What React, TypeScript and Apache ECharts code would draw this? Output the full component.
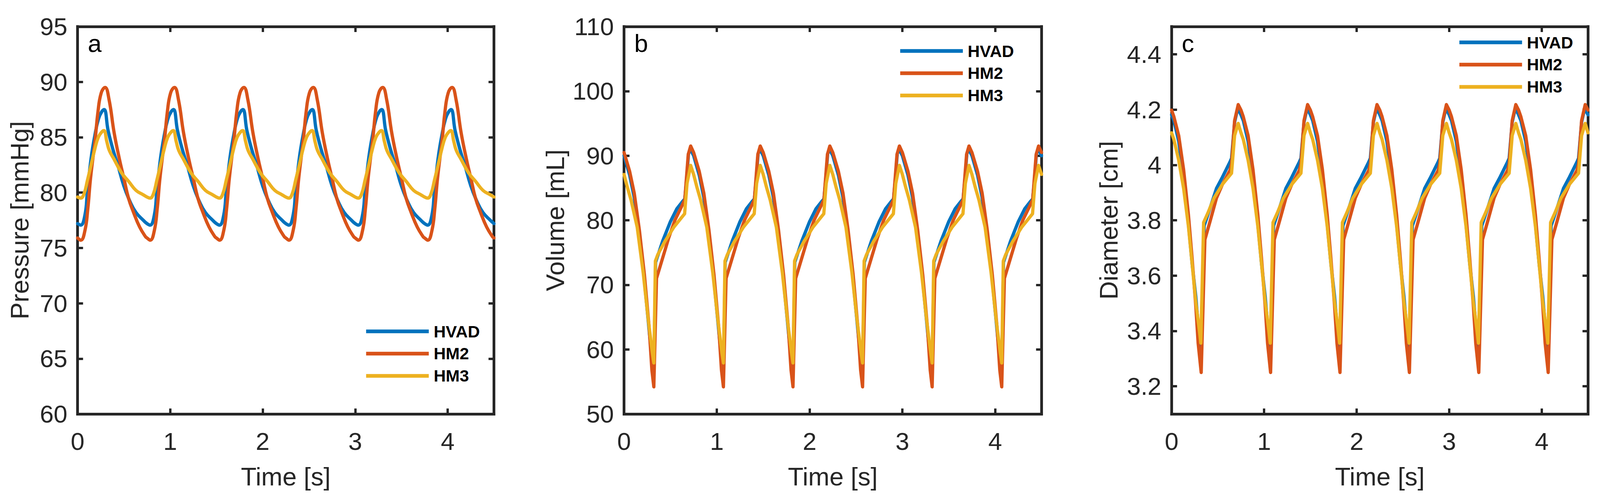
import React, { useEffect, useRef, useState } from "react";
import * as echarts from "echarts";

// ---------------- DATA (one cardiac cycle, period 0.75 s) ----------------
const PERIOD = 0.75;
const CYCLES = 6;
const DEVICES = ["HVAD", "HM2", "HM3"];
const X_TICKS = [0, 1, 2, 3, 4];

// Panel a: pressure [mmHg]
const pressureHVAD_t = [0, 0.034, 0.08, 0.106, 0.146, 0.185, 0.224, 0.264, 0.287, 0.33, 0.382, 0.434, 0.5, 0.566, 0.631, 0.71];
const pressureHVAD_v = [77.2, 77.06, 78.0, 80.1, 83.1, 85.1, 86.6, 87.35, 87.5, 85.6, 83.9, 82.5, 80.6, 79.2, 78.2, 77.5];
const pressureHM2_t = [0, 0.035, 0.08, 0.11, 0.14, 0.19, 0.22, 0.255, 0.297, 0.34, 0.395, 0.45, 0.5, 0.55, 0.605, 0.67, 0.735];
const pressureHM2_v = [75.9, 75.7, 76.6, 78.5, 81.3, 84.8, 87.3, 89.0, 89.5, 88.4, 85.4, 83.1, 81.3, 79.5, 78.2, 76.9, 76.0];
const pressureHM3_t = [0, 0.034, 0.07, 0.106, 0.146, 0.185, 0.224, 0.264, 0.285, 0.316, 0.343, 0.395, 0.474, 0.553, 0.631, 0.71];
const pressureHM3_v = [79.6, 79.5, 79.9, 81.1, 82.5, 83.9, 85.0, 85.5, 85.6, 84.6, 83.8, 83.0, 81.8, 81.0, 80.2, 79.8];

// Panel b: volume [mL]
const volumeHVAD_t = [0, 0.06, 0.11, 0.165, 0.22, 0.27, 0.3, 0.322, 0.34, 0.417, 0.5, 0.57, 0.63, 0.655, 0.672, 0.695, 0.715];
const volumeHVAD_v = [90.0, 87.0, 83.5, 77.5, 70.5, 63.0, 58.5, 57.0, 73.5, 76.8, 79.8, 81.8, 82.9, 83.3, 86.0, 90.3, 91.0];
const volumeHM2_t = [0, 0.06, 0.11, 0.165, 0.22, 0.27, 0.3, 0.321, 0.35, 0.417, 0.482, 0.548, 0.626, 0.655, 0.668, 0.692, 0.718];
const volumeHM2_v = [90.5, 87.6, 84.2, 78.5, 71.5, 63.5, 56.8, 54.2, 71.0, 74.2, 77.3, 80.0, 82.3, 83.2, 85.7, 90.2, 91.5];
const volumeHM3_t = [0, 0.034, 0.076, 0.142, 0.207, 0.26, 0.305, 0.321, 0.338, 0.364, 0.443, 0.535, 0.653, 0.679, 0.718];
const volumeHM3_v = [87.1, 85.2, 83.1, 78.9, 71.8, 64.7, 59.5, 57.9, 73.7, 74.7, 76.8, 78.9, 81.0, 85.7, 88.5];

// Panel c: diameter [cm]
const diameterHVAD_t = [0, 0.025, 0.077, 0.13, 0.182, 0.222, 0.261, 0.287, 0.318, 0.352, 0.419, 0.485, 0.55, 0.63, 0.648, 0.681, 0.715];
const diameterHVAD_v = [4.181, 4.16, 4.085, 3.956, 3.785, 3.642, 3.526, 3.424, 3.34, 3.78, 3.847, 3.915, 3.956, 4.01, 4.024, 4.154, 4.205];
const diameterHM2_t = [0, 0.025, 0.077, 0.13, 0.182, 0.222, 0.261, 0.287, 0.32, 0.36, 0.419, 0.485, 0.55, 0.63, 0.648, 0.681, 0.72];
const diameterHM2_v = [4.198, 4.174, 4.106, 3.983, 3.82, 3.662, 3.492, 3.356, 3.25, 3.73, 3.8, 3.88, 3.93, 3.98, 4.004, 4.16, 4.218];
const diameterHM3_t = [0, 0.025, 0.077, 0.13, 0.182, 0.222, 0.261, 0.3, 0.316, 0.346, 0.392, 0.458, 0.55, 0.648, 0.681, 0.72];
const diameterHM3_v = [4.116, 4.092, 4.017, 3.915, 3.778, 3.642, 3.506, 3.403, 3.356, 3.792, 3.826, 3.88, 3.93, 3.97, 4.106, 4.15];
const DIAMETER_TICKS = [3.2, 3.4, 3.6, 3.8, 4, 4.2, 4.4];

// ---------------- STYLE / LAYOUT (in reference pixels, 4392 x 1288) ----------------
const REF_W = 4392;
const REF_H = 1288;
const FONT = "'Liberation Sans', Arial, Helvetica, sans-serif";
const AXIS_COLOR = "#262626";
const COLORS = ["#0072BD", "#D95319", "#EDB120"];

const PANELS = [
  {
    label: "a", left: 213, width: 1143, yMin: 60, yMax: 95, yInterval: 5, yTicks: null as number[] | null,
    yName: "Pressure [mmHg]", yNameGap: 124, legendLeft: 1005, legendTop: 827, smooth: 0.45 as any,
    data: [[pressureHVAD_t, pressureHVAD_v], [pressureHM2_t, pressureHM2_v], [pressureHM3_t, pressureHM3_v]],
  },
  {
    label: "b", left: 1713, width: 1146, yMin: 50, yMax: 110, yInterval: 10, yTicks: null as number[] | null,
    yName: "Volume [mL]", yNameGap: 154, legendLeft: 2471, legendTop: 109, smooth: false as any,
    data: [[volumeHVAD_t, volumeHVAD_v], [volumeHM2_t, volumeHM2_v], [volumeHM3_t, volumeHM3_v]],
  },
  {
    label: "c", left: 3216, width: 1143, yMin: 3.1, yMax: 4.5, yInterval: null as any, yTicks: DIAMETER_TICKS,
    yName: "Diameter [cm]", yNameGap: 137, legendLeft: 4006, legendTop: 87, smooth: false as any,
    data: [[diameterHVAD_t, diameterHVAD_v], [diameterHM2_t, diameterHM2_v], [diameterHM3_t, diameterHM3_v]],
  },
];
const GRID_TOP = 68;
const GRID_HEIGHT = 992;

function tile(ts: number[], vs: number[]) {
  const out: number[][] = [];
  for (let k = 0; k < CYCLES; k++) {
    for (let i = 0; i < ts.length; i++) {
      out.push([+(ts[i] + k * PERIOD).toFixed(4), vs[i]]);
    }
  }
  out.push([PERIOD * CYCLES, vs[0]]);
  return out;
}

function buildOption(sx: number, sy: number) {
  const s = Math.min(sx, sy);
  const X = (v: number) => v * sx;
  const Y = (v: number) => v * sy;
  const S = (v: number) => v * s;

  const grid: any[] = [];
  const xAxis: any[] = [];
  const yAxis: any[] = [];
  const series: any[] = [];
  const legend: any[] = [];
  const title: any[] = [];

  const lineStyleAxis = { color: AXIS_COLOR, width: S(7.5), cap: "square" };
  const tickStyle = { color: AXIS_COLOR, width: S(6.5) };

  PANELS.forEach((p, i) => {
    grid.push({ left: X(p.left), top: Y(GRID_TOP), width: X(p.width), height: Y(GRID_HEIGHT), containLabel: false });

    const xCommon = {
      type: "value", gridIndex: i, min: 0, max: PERIOD * CYCLES,
      splitLine: { show: false },
      axisLine: { show: true, onZero: false, lineStyle: lineStyleAxis },
      axisTick: { show: true, inside: true, length: S(15), lineStyle: tickStyle, customValues: X_TICKS },
    };
    xAxis.push({
      ...xCommon, position: "bottom",
      name: "Time [s]", nameLocation: "middle", nameGap: Y(128),
      nameTextStyle: { fontSize: S(70), color: AXIS_COLOR, fontFamily: FONT },
      axisLabel: { show: true, fontSize: S(68), color: AXIS_COLOR, fontFamily: FONT, margin: Y(38), customValues: X_TICKS },
    });
    xAxis.push({ ...xCommon, position: "top", axisLabel: { show: false } });

    const yTickCfg: any = { show: true, inside: true, length: S(15), lineStyle: tickStyle };
    const yLabelCfg: any = { show: true, fontSize: S(68), color: AXIS_COLOR, fontFamily: FONT, margin: X(28) };
    if (p.yTicks) {
      yTickCfg.customValues = p.yTicks;
      yLabelCfg.customValues = p.yTicks;
    }
    const yCommon: any = {
      type: "value", gridIndex: i, min: p.yMin, max: p.yMax,
      splitLine: { show: false },
      axisLine: { show: true, onZero: false, lineStyle: lineStyleAxis },
      axisTick: yTickCfg,
    };
    if (p.yInterval) yCommon.interval = p.yInterval;
    yAxis.push({
      ...yCommon, position: "left",
      name: p.yName, nameLocation: "middle", nameGap: X(p.yNameGap),
      nameTextStyle: { fontSize: S(70), color: AXIS_COLOR, fontFamily: FONT },
      axisLabel: yLabelCfg,
    });
    yAxis.push({ ...yCommon, position: "right", axisLabel: { show: false } });

    p.data.forEach((d, j) => {
      series.push({
        type: "line",
        name: DEVICES[j],
        xAxisIndex: i * 2,
        yAxisIndex: i * 2,
        data: tile(d[0], d[1]),
        showSymbol: false,
        symbol: "none",
        smooth: p.smooth,
        lineStyle: { width: S(9), color: COLORS[j], join: "round", cap: "round" },
        itemStyle: { color: COLORS[j] },
        emphasis: { disabled: true },
        z: 2 + j,
      });
    });

    legend.push({
      show: true,
      left: X(p.legendLeft),
      top: Y(p.legendTop),
      orient: "vertical",
      padding: 0,
      icon: "rect",
      itemWidth: X(172),
      itemHeight: S(10),
      itemGap: S(15),
      selectedMode: false,
      data: DEVICES,
      textStyle: {
        fontSize: S(46), fontWeight: "bold", color: "#000", fontFamily: FONT,
        lineHeight: S(46), padding: [0, 0, 0, S(8)],
      },
    });

    title.push({
      text: p.label,
      left: X(p.left + 28),
      top: Y(79),
      padding: 0,
      textStyle: { fontSize: S(68), fontWeight: "normal", color: "#000", fontFamily: FONT },
    });
  });

  return {
    animation: false,
    backgroundColor: "#ffffff",
    title,
    legend,
    grid,
    xAxis,
    yAxis,
    series,
  };
}

export default function App() {
  const ref = useRef<HTMLDivElement>(null);
  const [size] = useState(() => ({
    w: typeof window !== "undefined" ? window.innerWidth : REF_W,
    h: typeof window !== "undefined" ? window.innerHeight : REF_H,
  }));
  useEffect(() => {
    document.body.style.margin = "0";
    document.documentElement.style.overflow = "hidden";
    document.body.style.overflow = "hidden";
    if (!ref.current) return;
    const w = window.innerWidth || REF_W;
    const h = window.innerHeight || REF_H;
    const chart = echarts.init(ref.current, undefined, { renderer: "svg", width: w, height: h });
    chart.setOption(buildOption(w / REF_W, h / REF_H) as any);
    return () => {
      chart.dispose();
    };
  }, []);
  return <div ref={ref} style={{ width: size.w, height: size.h, background: "#fff", overflow: "hidden" }} />;
}
